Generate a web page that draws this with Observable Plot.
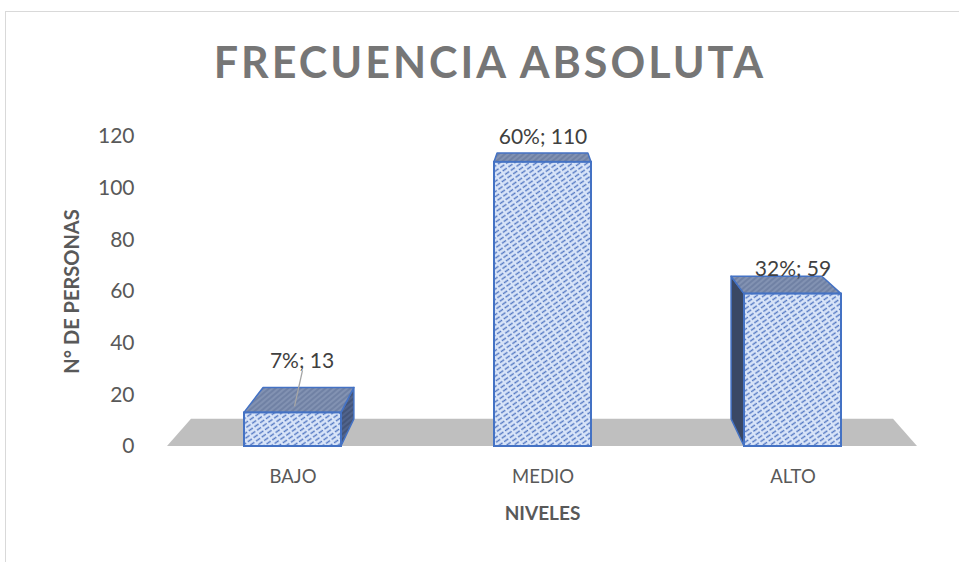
<!DOCTYPE html>
<html><head><meta charset="utf-8">
<script src="https://cdn.jsdelivr.net/npm/d3@7"></script>
<script src="https://cdn.jsdelivr.net/npm/@observablehq/plot@0.6"></script>
<style>
html,body{margin:0;padding:0;background:#fff;width:959px;height:562px;overflow:hidden;font-family:Lato,"Open Sans",sans-serif}
#frame{position:absolute;left:5px;top:11px;width:1000px;height:600px;border:1px solid #d9d9d9;box-sizing:border-box}
#title{position:absolute;left:0;top:0;width:980px;height:100px;line-height:124px;text-align:center;font-weight:700;font-size:43px;letter-spacing:3px;color:#767676;white-space:nowrap}
#chart{position:absolute;left:0;top:100px}
#chart g[aria-label^="x-axis"] text{font-size:18.5px !important}
</style></head>
<body>
<div id="frame"></div>
<div id="title">FRECUENCIA ABSOLUTA</div>
<div id="chart"></div>
<script>
// ---- data ----
const niveles = ["BAJO", "MEDIO", "ALTO"];
const personas = [13, 110, 59];
const porcentajes = ["7%", "60%", "32%"];
const yTicks = [0, 20, 40, 60, 80, 100, 120];
const yTitle = "N° DE PERSONAS";
const xTitle = "NIVELES";

const data = niveles.map((n, i) => ({nivel: n, valor: personas[i], etiqueta: `${porcentajes[i]}; ${personas[i]}`}));

// perspective (styling)
const K = 0.936, VY = -78;

function bw(x) { return typeof x.bandwidth === "function" ? x.bandwidth() : x.bandwidth; }

function defs(g) {
  const d = g.append("defs");
  const p1 = d.append("pattern").attr("id", "hFront").attr("patternUnits", "userSpaceOnUse")
    .attr("width", 7).attr("height", 4.2).attr("patternTransform", "rotate(-35)");
  p1.append("rect").attr("width", 7).attr("height", 4.2).attr("fill", "#d8e4f8");
  p1.append("line").attr("x1", 0).attr("x2", 5).attr("y1", 2.1).attr("y2", 2.1).attr("stroke", "#5478c2").attr("stroke-width", 1.4);
  const p2 = d.append("pattern").attr("id", "hTop").attr("patternUnits", "userSpaceOnUse")
    .attr("width", 6).attr("height", 4).attr("patternTransform", "rotate(-40)");
  p2.append("rect").attr("width", 6).attr("height", 4).attr("fill", "#8292b2");
  p2.append("line").attr("x1", 0).attr("x2", 6).attr("y1", 2).attr("y2", 2).attr("stroke", "#687a9e").attr("stroke-width", 1.4);
  const p3 = d.append("pattern").attr("id", "hSide").attr("patternUnits", "userSpaceOnUse")
    .attr("width", 6).attr("height", 4).attr("patternTransform", "rotate(-40)");
  p3.append("rect").attr("width", 6).attr("height", 4).attr("fill", "#44557a");
  p3.append("line").attr("x1", 0).attr("x2", 6).attr("y1", 2).attr("y2", 2).attr("stroke", "#5a6d96").attr("stroke-width", 1.2);
}

function floorMark(index, scales, values, dims) {
  const g = d3.create("svg:g");
  defs(g);
  const y = scales.y;
  const VX = (dims.marginLeft + dims.width - dims.marginRight) / 2;
  const P = (px, py) => [VX + (px - VX) * K, VY + (py - VY) * K];
  const xL = dims.marginLeft, xR = dims.width - dims.marginRight, y0 = y(0);
  g.append("polygon").attr("points", [[xL, y0], [xR, y0], P(xR, y0), P(xL, y0)].map(p => p.join(",")).join(" "))
    .attr("fill", "#bfbfbf");
  return g.node();
}

function facesMark(index, scales, values, dims) {
  const g = d3.create("svg:g");
  const x = scales.x, y = scales.y, w = bw(x);
  const VX = (dims.marginLeft + dims.width - dims.marginRight) / 2;
  const P = (px, py) => [VX + (px - VX) * K, VY + (py - VY) * K];
  const pts = a => a.map(p => p.join(",")).join(" ");
  for (const d of data) {
    const x0 = x(d.nivel), x1 = x0 + w, y0 = y(0), y1 = y(d.valor);
    if (P(x1, y1)[0] > x1) {
      g.append("polygon").attr("points", pts([[x1, y1], P(x1, y1), P(x1, y0), [x1, y0]]))
        .attr("fill", "url(#hSide)").attr("stroke", "#4472c4").attr("stroke-width", 1.5).attr("stroke-linejoin", "round");
    }
    if (P(x0, y1)[0] < x0) {
      g.append("polygon").attr("points", pts([[x0, y1], P(x0, y1), P(x0, y0), [x0, y0]]))
        .attr("fill", "#3a4864").attr("stroke", "#4472c4").attr("stroke-width", 1.5).attr("stroke-linejoin", "round");
    }
    g.append("polygon").attr("points", pts([[x0, y1], [x1, y1], P(x1, y1), P(x0, y1)]))
      .attr("fill", "url(#hTop)").attr("stroke", "#4472c4").attr("stroke-width", 1.5).attr("stroke-linejoin", "round");
  }
  return g.node();
}

function leaderMark(index, scales) {
  const g = d3.create("svg:g");
  const d = data[0];
  const cx = scales.x(d.nivel) + bw(scales.x) / 2, yy = scales.y(d.valor);
  g.append("line").attr("x1", cx + 10).attr("y1", yy - 42).attr("x2", cx + 2).attr("y2", yy - 6)
    .attr("stroke", "#a6a6a6").attr("stroke-width", 1.3);
  return g.node();
}

const chart = Plot.plot({
  width: 959,
  height: 462,
  marginLeft: 167,
  marginRight: 42,
  marginTop: 36,
  marginBottom: 116,
  style: {fontFamily: "Lato, 'Open Sans', sans-serif", fontSize: "21px", color: "#595959", background: "transparent", overflow: "visible"},
  x: {domain: niveles, paddingInner: 0.612, paddingOuter: 0.306, tickSize: 0, tickPadding: 23, label: null},
  y: {domain: [0, 120], ticks: yTicks, tickSize: 0, tickPadding: 33, label: null, tickFormat: d => String(d)},
  marks: [
    floorMark,
    facesMark,
    Plot.barY(data, {x: "nivel", y: "valor", fill: "url(#hFront)", stroke: "#4472c4", strokeWidth: 2, inset: 0}),
    leaderMark,
    Plot.text(data.slice(1), {x: "nivel", y: "valor", text: "etiqueta", dy: -25, fontSize: 21, fill: "#404040"}),
    Plot.text(data.slice(0, 1), {x: "nivel", y: "valor", text: "etiqueta", dx: 9, dy: -52, fontSize: 21, fill: "#404040"}),
    Plot.text([yTitle], {frameAnchor: "left", textAnchor: "middle", rotate: -90, dx: -95, text: d => d, fontSize: 20, fontWeight: 700, fill: "#595959"}),
    Plot.text([xTitle], {frameAnchor: "bottom", dy: 73, text: d => d, fontSize: 19, fontWeight: 700, fill: "#595959"})
  ]
});
document.getElementById("chart").appendChild(chart);
</script>
</body></html>
